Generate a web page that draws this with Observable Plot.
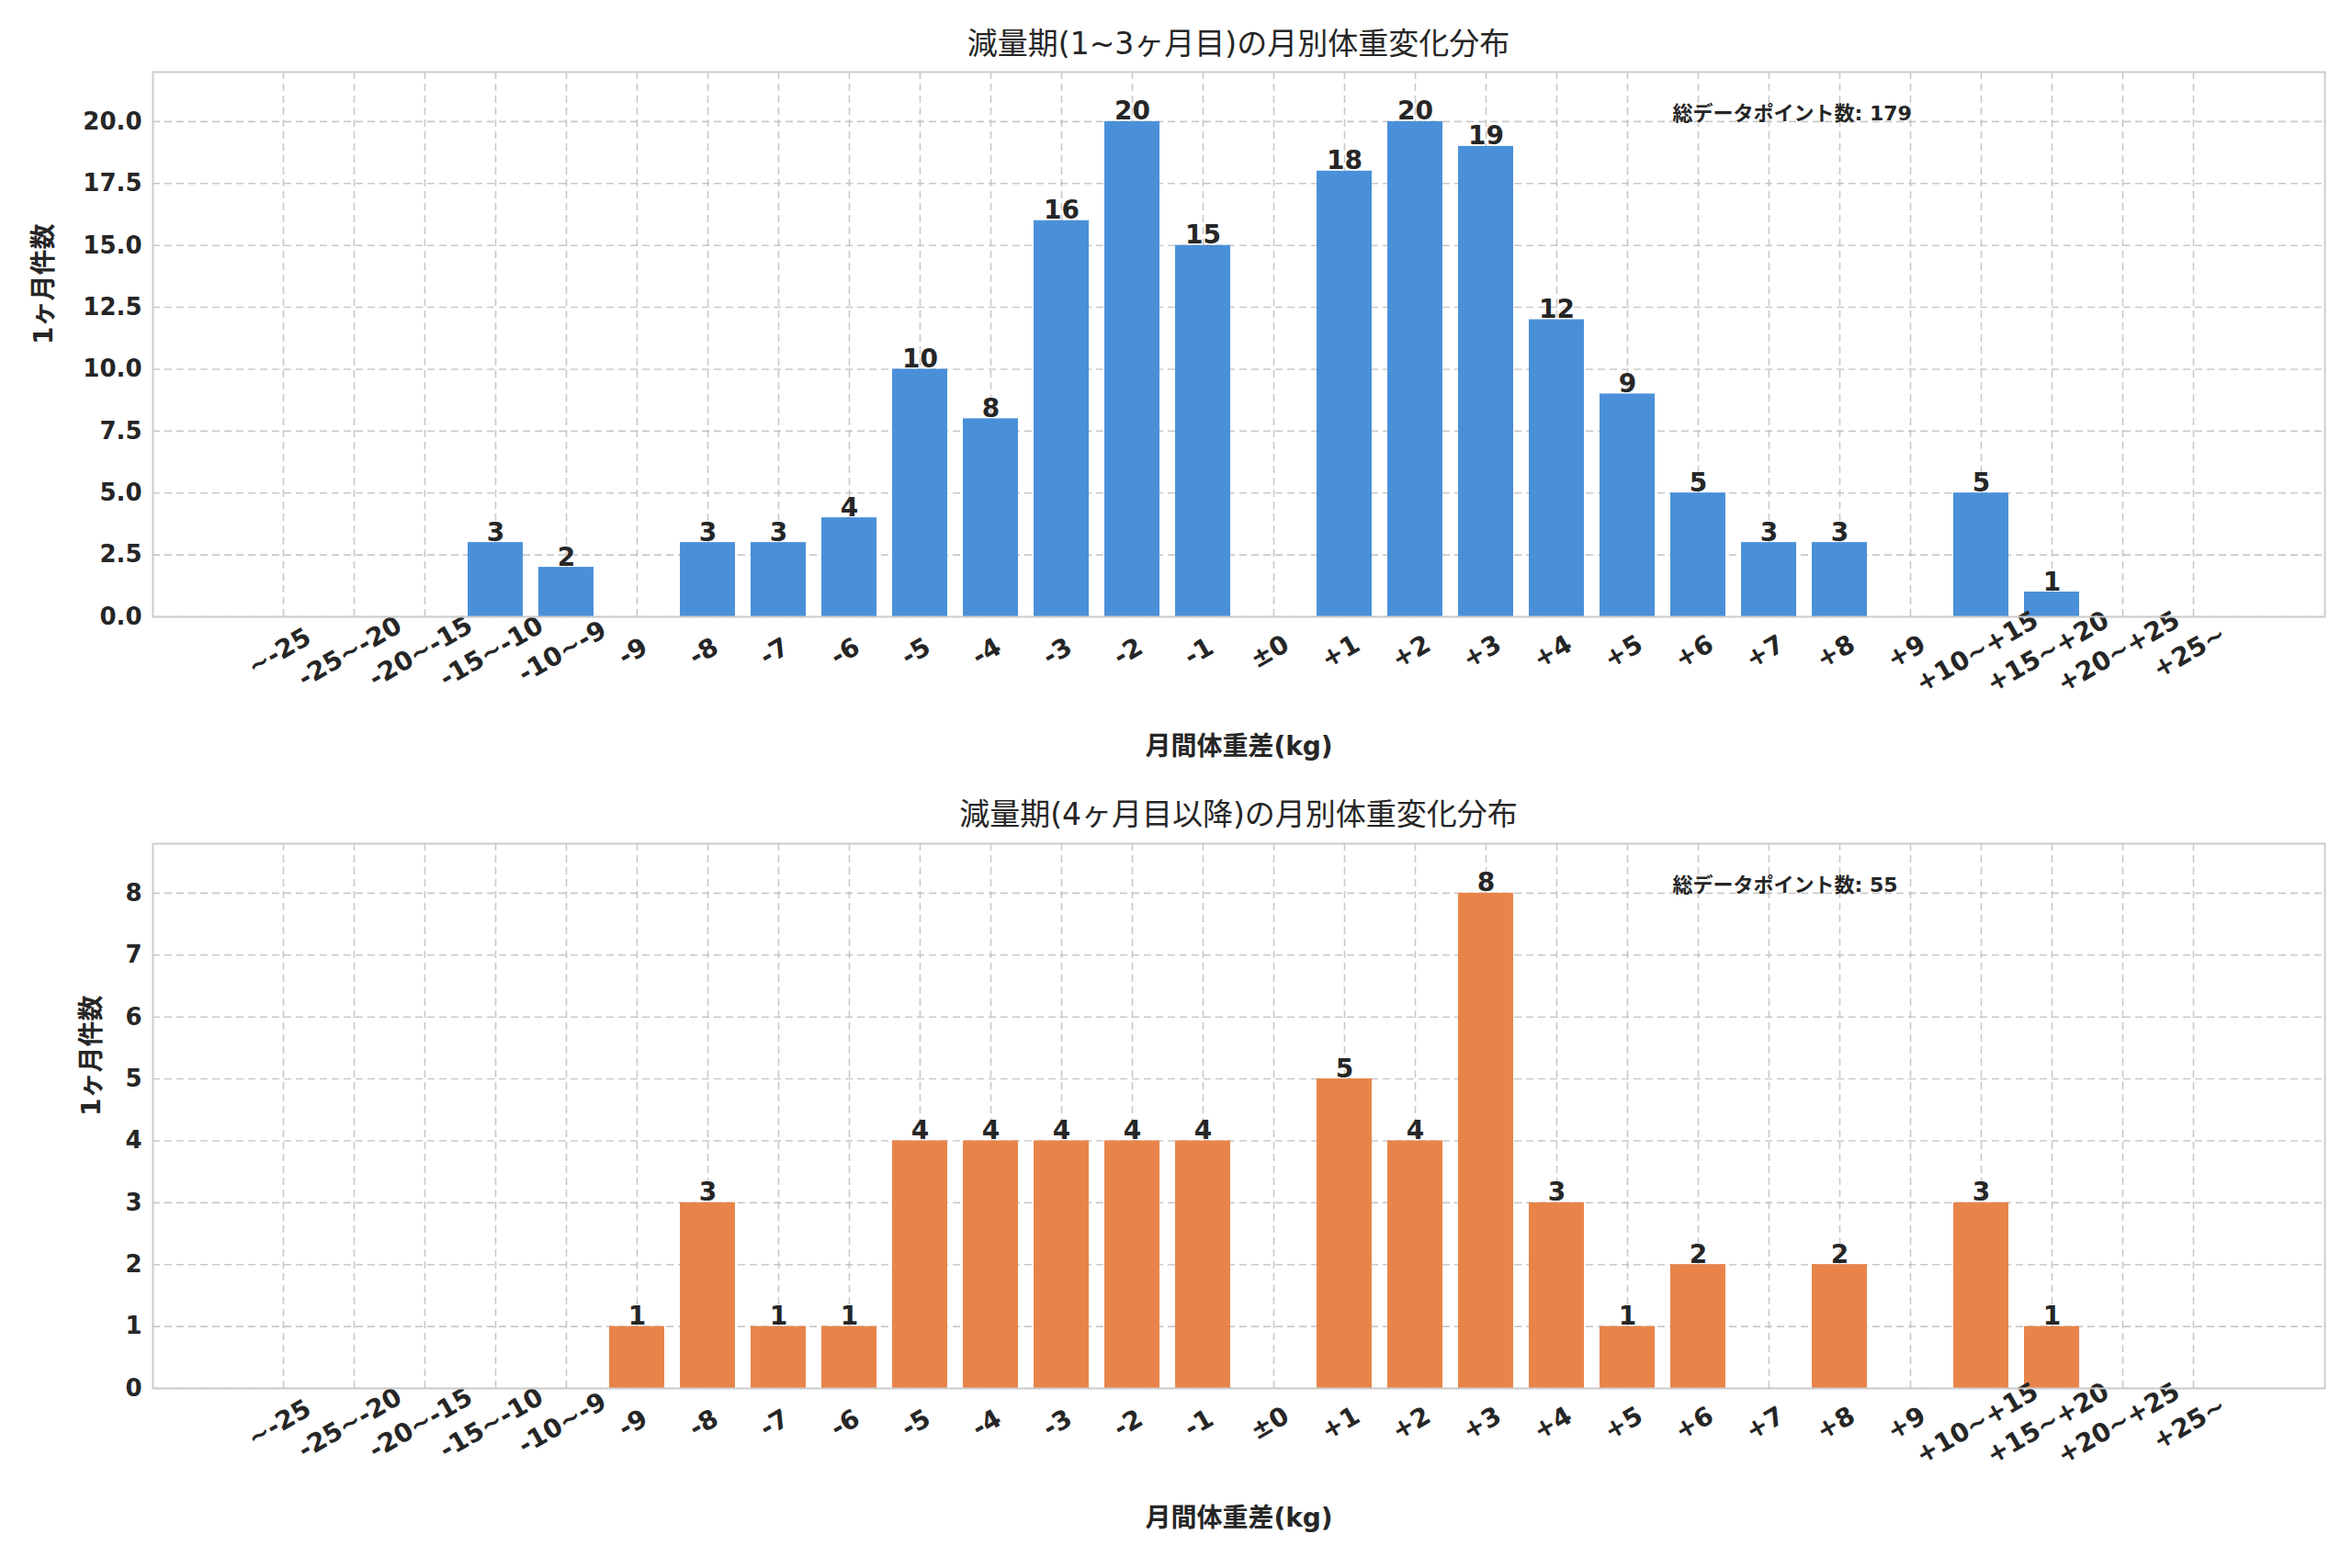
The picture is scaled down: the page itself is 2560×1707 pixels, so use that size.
<!DOCTYPE html>
<html><head><meta charset="utf-8">
<script src="https://cdn.jsdelivr.net/npm/d3@7"></script>
<script src="https://cdn.jsdelivr.net/npm/@observablehq/plot@0.6"></script>
<style>
body{margin:0;background:#fff;font-family:"DejaVu Sans","Noto Sans CJK JP",sans-serif;}
#wrap{position:relative;width:2560px;height:1707px;}
.title{position:absolute;left:166px;width:2364px;text-align:center;font-size:33px;line-height:40px;color:#262626;z-index:2;}
.panel{position:absolute;left:0;z-index:1;}
</style></head><body>
<div id="wrap">
<div class="title" style="top:28px">減量期(1~3ヶ月目)の月別体重変化分布</div>
<div class="title" style="top:867px">減量期(4ヶ月目以降)の月別体重変化分布</div>
<div class="panel" id="p1" style="top:60px"></div>
<div class="panel" id="p2" style="top:900px"></div>
</div>
<script>
const categories = ["~-25","-25~-20","-20~-15","-15~-10","-10~-9","-9","-8","-7","-6","-5","-4","-3","-2","-1","±0","+1","+2","+3","+4","+5","+6","+7","+8","+9","+10~+15","+15~+20","+20~+25","+25~"];
const early = [0,0,0,3,2,0,3,3,4,10,8,16,20,15,0,18,20,19,12,9,5,3,3,0,5,1,0,0];
const late  = [0,0,0,0,0,1,3,1,1,4,4,4,4,4,0,5,4,8,3,1,2,0,2,0,3,1,0,0];
const totalEarly = 179, totalLate = 55;
const yLabel = "1ヶ月件数";
const xLabel = "月間体重差(kg)";
const noteLabel = "総データポイント数";

function panel(vals, color, yDomain, yTicks, fmt, total, yLabelDx){
  const data = categories.map((c,i)=>({c, v: vals[i]}));
  const font = '"DejaVu Sans","Noto Sans CJK JP",sans-serif';
  return Plot.plot({
    width: 2560, height: 780,
    marginTop: 18, marginBottom: 169, marginLeft: 166, marginRight: 30,
    style: {fontFamily: font, fontSize: "26px", color: "#262626", background: "transparent"},
    x: {type: "band", domain: categories, range: [266.4, 2429.6], paddingInner: 0.22, paddingOuter: 0.11, axis: null},
    y: {domain: yDomain, ticks: yTicks, tickFormat: fmt, label: null, tickSize: 0, tickPadding: 12},
    marks: [
      Plot.gridY(yTicks, {stroke: "#bbb", strokeOpacity: 0.8, strokeDasharray: "8,5", strokeWidth: 1.6}),
      Plot.gridX(categories, {stroke: "#bbb", strokeOpacity: 0.8, strokeDasharray: "8,5", strokeWidth: 1.6}),
      Plot.barY(data, {x: "c", y: "v", fill: color}),
      Plot.text(data.filter(d=>d.v>0), {x: "c", y: "v", text: d=>String(d.v), dy: -11, fontSize: 28, fontWeight: "bold", fill: "#262626"}),
      Plot.axisY({ticks: yTicks, tickFormat: fmt, tickSize: 0, tickPadding: 12, fontWeight: "bold", fontSize: 26, label: null}),
      Plot.text(categories, {x: d=>d, frameAnchor: "bottom", dy: 46, rotate: -30, fontSize: 28, fontWeight: "bold", fill: "#262626"}),
      Plot.text([xLabel], {frameAnchor: "bottom", dy: 150, fontSize: 28, fontWeight: "bold", fill: "#262626"}),
      Plot.text([yLabel], {frameAnchor: "left", dx: yLabelDx, rotate: -90, fontSize: 28, fontWeight: "bold", fill: "#262626"}),
      Plot.text([`${noteLabel}: ${total}`], {frameAnchor: "top-left", dx: 1654, dy: 37, textAnchor: "start", fontSize: 22, fontWeight: "bold", fill: "#262626"}),
      Plot.frame({stroke: "#ccc", strokeWidth: 2})
    ]
  });
}
document.getElementById("p1").append(panel(early, "#4a90d9", [0,22], d3.range(0,20.01,2.5), d3.format(".1f"), totalEarly, -118));
document.getElementById("p2").append(panel(late, "#e8844a", [0,8.8], d3.range(0,9,1), d3.format("d"), totalLate, -66));
</script>
</body></html>
